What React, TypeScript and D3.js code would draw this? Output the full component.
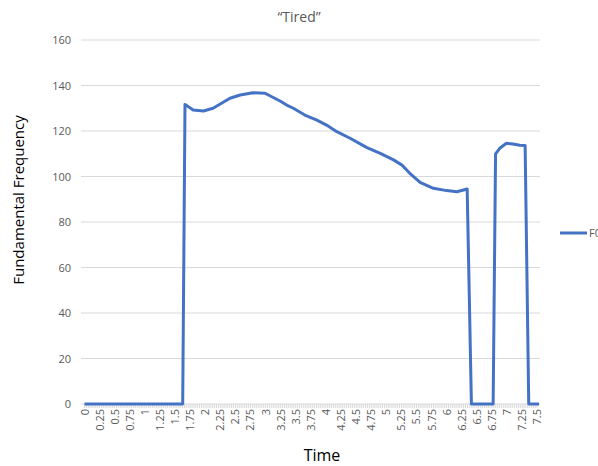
import React from "react";
import * as d3 from "d3";

const TITLE = "\u201CTired\u201D";
const X_TITLE = "Time";
const Y_TITLE = "Fundamental Frequency";
const SERIES_NAME = "F0";

const times = [0, 1.627, 1.665, 1.8, 1.97, 2.13, 2.27, 2.41, 2.58, 2.79, 2.99, 3.24, 3.35, 3.46, 3.65, 3.85, 4.01, 4.18, 4.4, 4.68, 4.9, 5.12, 5.26, 5.39, 5.56, 5.78, 6.0, 6.17, 6.34, 6.41, 6.77, 6.81, 6.88, 6.99, 7.1, 7.21, 7.3, 7.36, 7.53];
const f0 = [0, 0, 131.7, 129.2, 128.8, 130, 132.2, 134.4, 135.8, 136.8, 136.6, 133.2, 131.4, 130, 127, 124.8, 122.6, 119.7, 116.8, 112.7, 110.2, 107.3, 105, 101.4, 97.4, 94.8, 93.8, 93.3, 94.5, 0, 0, 109.9, 112.4, 114.6, 114.3, 113.7, 113.6, 0, 0];

const yTicks = [0, 20, 40, 60, 80, 100, 120, 140, 160];
const xLabels = ["0", "0.25", "0.5", "0.75", "1", "1.25", "1.5", "1.75", "2", "2.25", "2.5", "2.75", "3", "3.25", "3.5", "3.75", "4", "4.25", "4.5", "4.75", "5", "5.25", "5.5", "5.75", "6", "6.25", "6.5", "6.75", "7", "7.25", "7.5"];
const CATEGORY_STEP = 0.03125;
const T_MAX = 7.53;

export default function App() {
  const W = 598, H = 466;
  const x = d3.scaleLinear().domain([0, 7.5]).range([84.5, 537.2]);
  const y = d3.scaleLinear().domain([0, 160]).range([404, 40]);
  const gridX0 = 81, gridX1 = 540;
  const font = "'Open Sans', 'Segoe UI', sans-serif";
  const line = d3.line<number>().x((_, i) => x(times[i])).y((d) => y(d));
  const ticks = d3.range(0, T_MAX + 1e-9, CATEGORY_STEP);

  return (
    <svg width={W} height={H} style={{ position: "absolute", left: 0, top: 0, background: "#fff" }}>
      <text x={299} y={22} textAnchor="middle" fontFamily={font} fontSize={14} fill="#595959">{TITLE}</text>
      {yTicks.map((t) => (
        <g key={t}>
          {t > 0 && <line x1={gridX0} x2={gridX1} y1={y(t)} y2={y(t)} stroke="#d9d9d9" strokeWidth={1} />}
          <text x={71} y={y(t) + 4} textAnchor="end" fontFamily={font} fontSize={11} fill="#595959">{t}</text>
        </g>
      ))}
      <line x1={gridX0} x2={gridX1} y1={y(0)} y2={y(0)} stroke="#d9d9d9" strokeWidth={1} />
      {ticks.map((t, i) => (
        <line key={i} x1={x(t)} x2={x(t)} y1={y(0)} y2={y(0) + 4} stroke="#d9d9d9" strokeWidth={1} />
      ))}
      {xLabels.map((l) => (
        <text key={l} transform={`translate(${x(+l) + 4},${409}) rotate(-90)`} textAnchor="end" fontFamily={font} fontSize={11} fill="#595959">{l}</text>
      ))}
      <path d={line(f0) || ""} fill="none" stroke="#4472C4" strokeWidth={3} strokeLinejoin="round" />
      <text x={322} y={461} textAnchor="middle" fontFamily={font} fontSize={16} fill="#000">{X_TITLE}</text>
      <text transform={`translate(24,200) rotate(-90)`} textAnchor="middle" fontFamily={font} fontSize={15} fill="#000">{Y_TITLE}</text>
      <line x1={560} x2={587} y1={233} y2={233} stroke="#4472C4" strokeWidth={3} />
      <text x={589} y={237} fontFamily={font} fontSize={11} fill="#595959">{SERIES_NAME}</text>
    </svg>
  );
}
